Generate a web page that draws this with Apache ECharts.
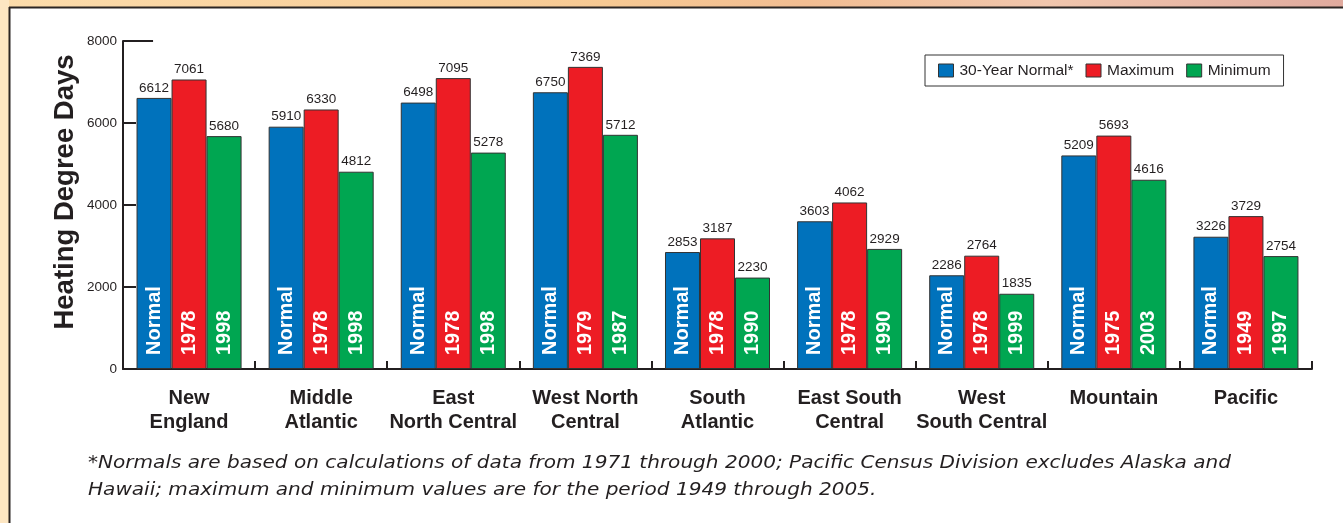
<!DOCTYPE html>
<html>
<head>
<meta charset="utf-8">
<script src="https://cdn.jsdelivr.net/npm/echarts@6/dist/echarts.min.js"></script>
<style>
html,body{margin:0;padding:0;background:#fff;}
#c{width:1343px;height:523px;}
</style>
</head>
<body>
<div id="c"></div>
<script>
const categories = ['New\nEngland','Middle\nAtlantic','East\nNorth Central','West North\nCentral','South\nAtlantic','East South\nCentral','West\nSouth Central','Mountain','Pacific'];
const normalValues = [6612, 5910, 6498, 6750, 2853, 3603, 2286, 5209, 3226];
const maximumValues = [7061, 6330, 7095, 7369, 3187, 4062, 2764, 5693, 3729];
const minimumValues = [5680, 4812, 5278, 5712, 2230, 2929, 1835, 4616, 2754];
const maximumYears = ['1978','1978','1978','1979','1978','1978','1978','1975','1949'];
const minimumYears = ['1998','1998','1998','1987','1990','1990','1999','2003','1997'];
const normalTags = ['Normal','Normal','Normal','Normal','Normal','Normal','Normal','Normal','Normal'];
const yTicks = [0, 2000, 4000, 6000, 8000];
const seriesNames = ['30-Year Normal*','Maximum','Minimum'];
const footnote = ['*Normals are based on calculations of data from 1971 through 2000; Pacific Census Division excludes Alaska and',
                  'Hawaii; maximum and minimum values are for the period 1949 through 2005.'];

const colors = ['#0072bc', '#ed1c24', '#00a651'];
const dark = '#231f20';
const sans = 'Liberation Sans, Arial, sans-serif';

const chart = echarts.init(document.getElementById('c'), null, {renderer: 'canvas'});

function valueSeries(name, data, color) {
  return {
    name: name, type: 'bar', xAxisIndex: 0, yAxisIndex: 0, data: data,
    barGap: '0%', barCategoryGap: '20.5%',
    itemStyle: {color: color, borderColor: '#333', borderWidth: 1},
    label: {show: true, position: 'top', distance: 3, color: dark, fontSize: 13.5, fontFamily: sans},
    emphasis: {disabled: true}, silent: true
  };
}
function tagSeries(values, tags) {
  return {
    type: 'bar', xAxisIndex: 1, yAxisIndex: 1,
    data: values.map((v, i) => ({value: v, tag: tags[i]})),
    barGap: '0%', barCategoryGap: '20.5%',
    itemStyle: {color: 'rgba(0,0,0,0)'},
    label: {show: true, position: 'insideBottom', rotate: 90, align: 'left', verticalAlign: 'middle', distance: 14,
      color: '#fff', fontSize: 20, fontWeight: 'bold', fontFamily: sans,
      formatter: p => p.data.tag},
    emphasis: {disabled: true}, silent: true, z: 5
  };
}

const option = {
  animation: false,
  backgroundColor: '#fff',
  grid: {left: 123, right: 31, top: 41, bottom: 154, containLabel: false},
  legend: {
    data: seriesNames, left: 925, top: 55, icon: 'rect',
    padding: [6, 13, 6, 13], itemGap: 12, itemWidth: 15, itemHeight: 13,
    borderColor: '#333', borderWidth: 1, backgroundColor: '#fff',
    textStyle: {fontFamily: sans, fontSize: 15.5, lineHeight: 19, color: dark, padding: [0,0,0,1]},
    itemStyle: {borderColor: '#333', borderWidth: 1},
    selectedMode: false
  },
  xAxis: [{
    type: 'category', data: categories, gridIndex: 0,
    axisLine: {lineStyle: {color: dark, width: 2}},
    axisTick: {show: true, inside: true, length: 8, lineStyle: {color: dark, width: 2}},
    axisLabel: {color: dark, fontSize: 20, fontWeight: 'bold', fontFamily: sans, lineHeight: 24, margin: 17, interval: 0}
  }, {
    type: 'category', data: categories, gridIndex: 0, show: false
  }],
  yAxis: [{
    type: 'value', min: 0, max: 8000, interval: 2000,
    axisLine: {show: true, lineStyle: {color: dark, width: 2}},
    axisTick: {show: true, inside: true, length: 13, lineStyle: {color: dark, width: 2}},
    splitLine: {show: false},
    axisLabel: {color: dark, fontSize: 13.5, fontFamily: sans, margin: 6,
      customValues: yTicks, formatter: v => String(v)}
  }, {
    type: 'value', min: 0, max: 8000, interval: 2000, show: false
  }],
  graphic: [],
  series: [
    valueSeries(seriesNames[0], normalValues, colors[0]),
    valueSeries(seriesNames[1], maximumValues, colors[1]),
    valueSeries(seriesNames[2], minimumValues, colors[2]),
    tagSeries(normalValues, normalTags),
    tagSeries(maximumValues, maximumYears),
    tagSeries(minimumValues, minimumYears)
  ]
};
chart.setOption(option);

// decorations: frame, axis title, top cap, footnote
const topPt = chart.convertToPixel({yAxisIndex: 0}, 8000);
const axX = chart.convertToPixel({xAxisIndex: 0}, 0) - 66;
chart.setOption({
  graphic: [
    {type: 'rect', shape: {x: 0, y: 0, width: 1343, height: 7}, style: {fill: new echarts.graphic.LinearGradient(0,0,1,0,[
      {offset: 0, color: '#fcdcab'}, {offset: 0.45, color: '#f7c993'}, {offset: 0.6, color: '#f2bd92'},
      {offset: 0.78, color: '#f1c6ad'}, {offset: 1, color: '#e0aa9e'}])}, silent: true, z: 10},
    {type: 'rect', shape: {x: 0, y: 0, width: 9, height: 523}, style: {fill: '#fde6c2'}, silent: true, z: 10},
    {type: 'line', shape: {x1: 9.5, y1: 7, x2: 9.5, y2: 523}, style: {stroke: '#2b2523', lineWidth: 2}, silent: true, z: 11},
    {type: 'line', shape: {x1: 9, y1: 7.5, x2: 1343, y2: 7.5}, style: {stroke: '#2b2523', lineWidth: 2}, silent: true, z: 11},
    {type: 'line', shape: {x1: axX, y1: topPt, x2: axX + 30, y2: topPt}, style: {stroke: dark, lineWidth: 2}, silent: true, z: 11},
    {type: 'text', x: 65, y: 192, rotation: Math.PI / 2,
      style: {text: 'Heating Degree Days', fill: dark, fontSize: 27.5, fontWeight: 'bold', fontFamily: sans, align: 'center', verticalAlign: 'middle'}, silent: true},
    {type: 'text', x: 88, y: 464, scaleX: 1.18,
      style: {text: footnote[0], fill: dark, fontSize: 17, fontStyle: 'italic', fontFamily: 'DejaVu Sans, sans-serif', align: 'left', verticalAlign: 'middle'}, silent: true},
    {type: 'text', x: 88, y: 491, scaleX: 1.18,
      style: {text: footnote[1], fill: dark, fontSize: 17, fontStyle: 'italic', fontFamily: 'DejaVu Sans, sans-serif', align: 'left', verticalAlign: 'middle'}, silent: true}
  ]
});
</script>
</body>
</html>
